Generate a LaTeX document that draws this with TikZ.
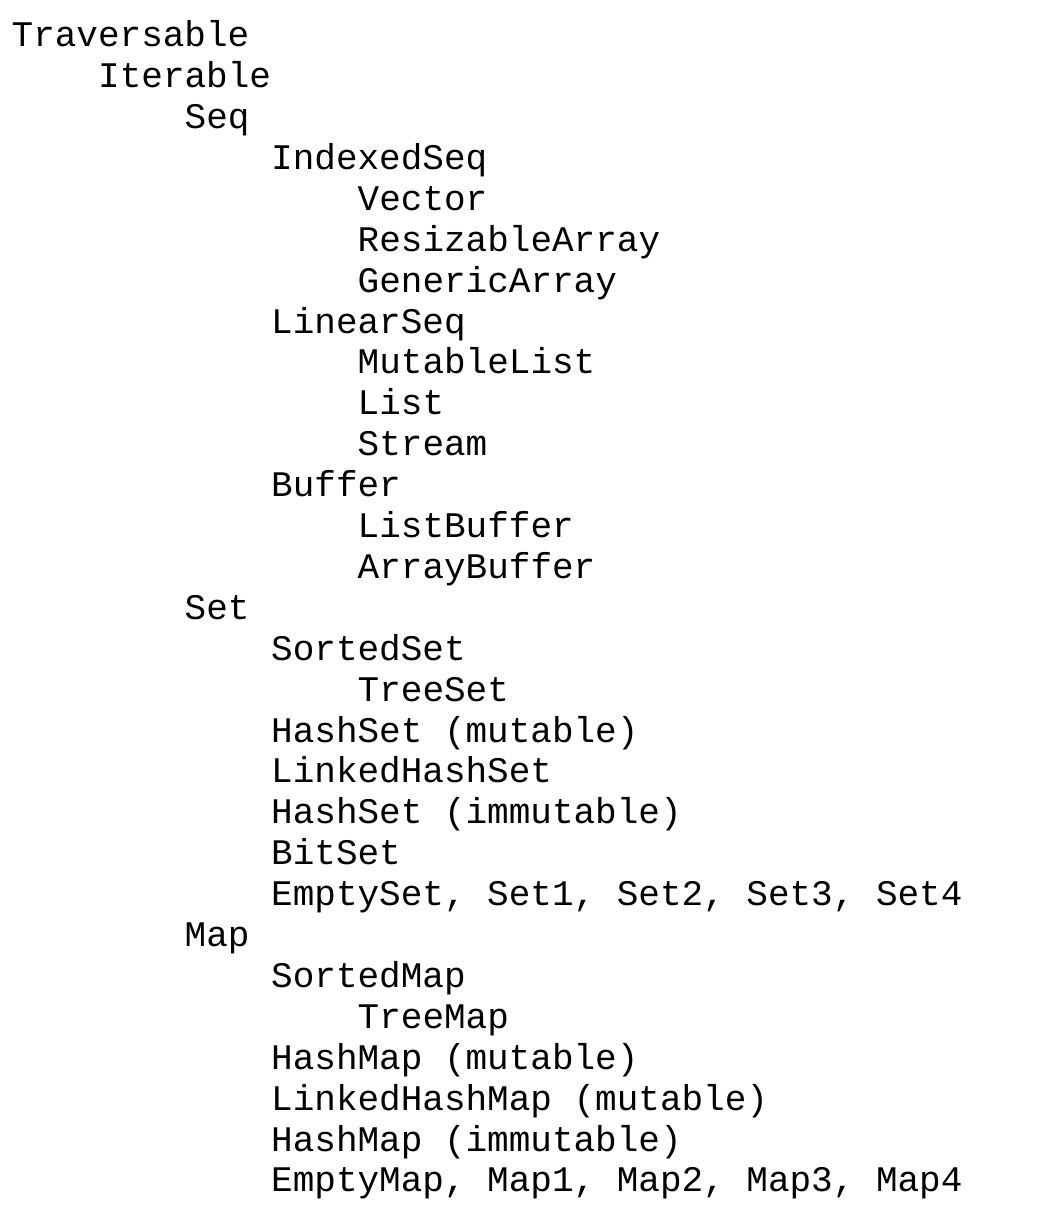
\documentclass[tikz,border=0pt]{standalone}
\usepackage{fontspec}
\setmonofont{Liberation Mono}
\usepackage{tikz}

\begin{document}
\begin{tikzpicture}[
    x=1pt, y=1pt,
    eintrag/.style={
        anchor=base west,
        inner sep=0pt,
        font=\ttfamily\fontsize{36}{40}\selectfont
    }
]

\useasboundingbox (0,0) rectangle (1042,-1226);

\foreach \stufe/\name [count=\i from 0] in {
    0/Traversable,
    1/Iterable,
    2/Seq,
    3/IndexedSeq,
    4/Vector,
    4/ResizableArray,
    4/GenericArray,
    3/LinearSeq,
    4/MutableList,
    4/List,
    4/Stream,
    3/Buffer,
    4/ListBuffer,
    4/ArrayBuffer,
    2/Set,
    3/SortedSet,
    4/TreeSet,
    3/HashSet (mutable),
    3/LinkedHashSet,
    3/HashSet (immutable),
    3/BitSet,
    3/{EmptySet, Set1, Set2, Set3, Set4},
    2/Map,
    3/SortedMap,
    4/TreeMap,
    3/HashMap (mutable),
    3/LinkedHashMap (mutable),
    3/HashMap (immutable),
    3/{EmptyMap, Map1, Map2, Map3, Map4}}
{
    \node[eintrag] (zeile\i) at (11.5+86.5*\stufe, -46.7-40.9*\i) {\name};
}

\end{tikzpicture}
\end{document}
